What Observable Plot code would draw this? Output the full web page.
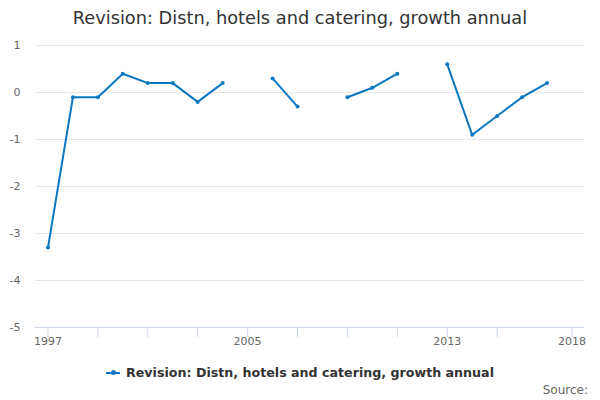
<!DOCTYPE html>
<html>
<head>
<meta charset="utf-8">
<script src="https://cdn.jsdelivr.net/npm/d3@7"></script>
<script src="https://cdn.jsdelivr.net/npm/@observablehq/plot@0.6"></script>
<style>
  body { margin: 0; font-family: "DejaVu Sans", sans-serif; background: #fff; }
  #wrap { position: relative; width: 600px; height: 400px; overflow: hidden; }
  #title { position: absolute; left: 0; top: 5px; width: 600px; text-align: center; font-size: 17.75px; color: #333; line-height: 26px; }
  #chart { position: absolute; left: 0; top: 0; }
  #legend { position: absolute; left: 0; top: 364px; width: 600px; text-align: center; font-size: 12.65px; font-weight: bold; color: #333; line-height: 18px; }
  #legend .sym { display: inline-block; position: relative; width: 14px; height: 2px; background: #0a77c0; vertical-align: middle; margin-right: 6px; top: -1px; }
  #legend .sym::after { content: ""; position: absolute; left: 5px; top: -1.5px; width: 5px; height: 5px; border-radius: 50%; background: #0a77c0; }
  #source { position: absolute; right: 12px; top: 382px; font-size: 12px; color: #666; line-height: 16px; }
</style>
</head>
<body>
<div id="wrap">
  <div id="chart"></div>
  <div id="title">Revision: Distn, hotels and catering, growth annual</div>
  <div id="legend"><span class="sym"></span>Revision: Distn, hotels and catering, growth annual</div>
  <div id="source">Source:</div>
</div>
<script>
const years = [1997,1998,1999,2000,2001,2002,2003,2004,2005,2006,2007,2008,2009,2010,2011,2012,2013,2014,2015,2016,2017,2018];
const values = [-3.3,-0.1,-0.1,0.4,0.2,0.2,-0.2,0.2,null,0.3,-0.3,null,-0.1,0.1,0.4,null,0.6,-0.9,-0.5,-0.1,0.2,null];
const xTicks = [1997,1999,2001,2003,2005,2007,2009,2011,2013,2015,2018];
const xLabels = [1997,2005,2013,2018];
const yTicks = [-5,-4,-3,-2,-1,0,1];
const gridValues = [-4,-3,-2,-1,0,1];

const data = years.map((y, i) => ({year: y, value: values[i]}));
const color = "#0a77c0";

const chart = Plot.plot({
  width: 600,
  height: 400,
  marginTop: 45,
  marginBottom: 73,
  marginLeft: 35,
  marginRight: 16,
  style: { fontFamily: "DejaVu Sans, sans-serif", fontSize: "11px", color: "#666", background: "transparent" },
  x: { domain: [1996.5, 2018.5], label: null },
  y: { domain: [-5, 1], label: null },
  marks: [
    Plot.ruleY(gridValues, { stroke: "#e6e6e6", strokeWidth: 1, strokeOpacity: 1 }),
    Plot.ruleY([-5], { stroke: "#ccd6eb", strokeWidth: 1, strokeOpacity: 1 }),
    Plot.axisY({ ticks: yTicks, tickSize: 0, tickPadding: 15, tickFormat: d => String(d).replace("−", "-"), fill: "#666", fontSize: 11 }),
    Plot.axisX({ ticks: xTicks, tickSize: 10, tickPadding: 0, stroke: "#ccd6eb", strokeOpacity: 1,
      tickFormat: d => xLabels.includes(d) ? String(d) : "", fill: "#666", fontSize: 11 }),
    Plot.line(data, { x: "year", y: "value", stroke: color, strokeWidth: 2, defined: d => d.value != null }),
    Plot.dot(data.filter(d => d.value != null), { x: "year", y: "value", r: 2, fill: color, stroke: "none" })
  ]
});
document.getElementById("chart").appendChild(chart);
</script>
</body>
</html>
